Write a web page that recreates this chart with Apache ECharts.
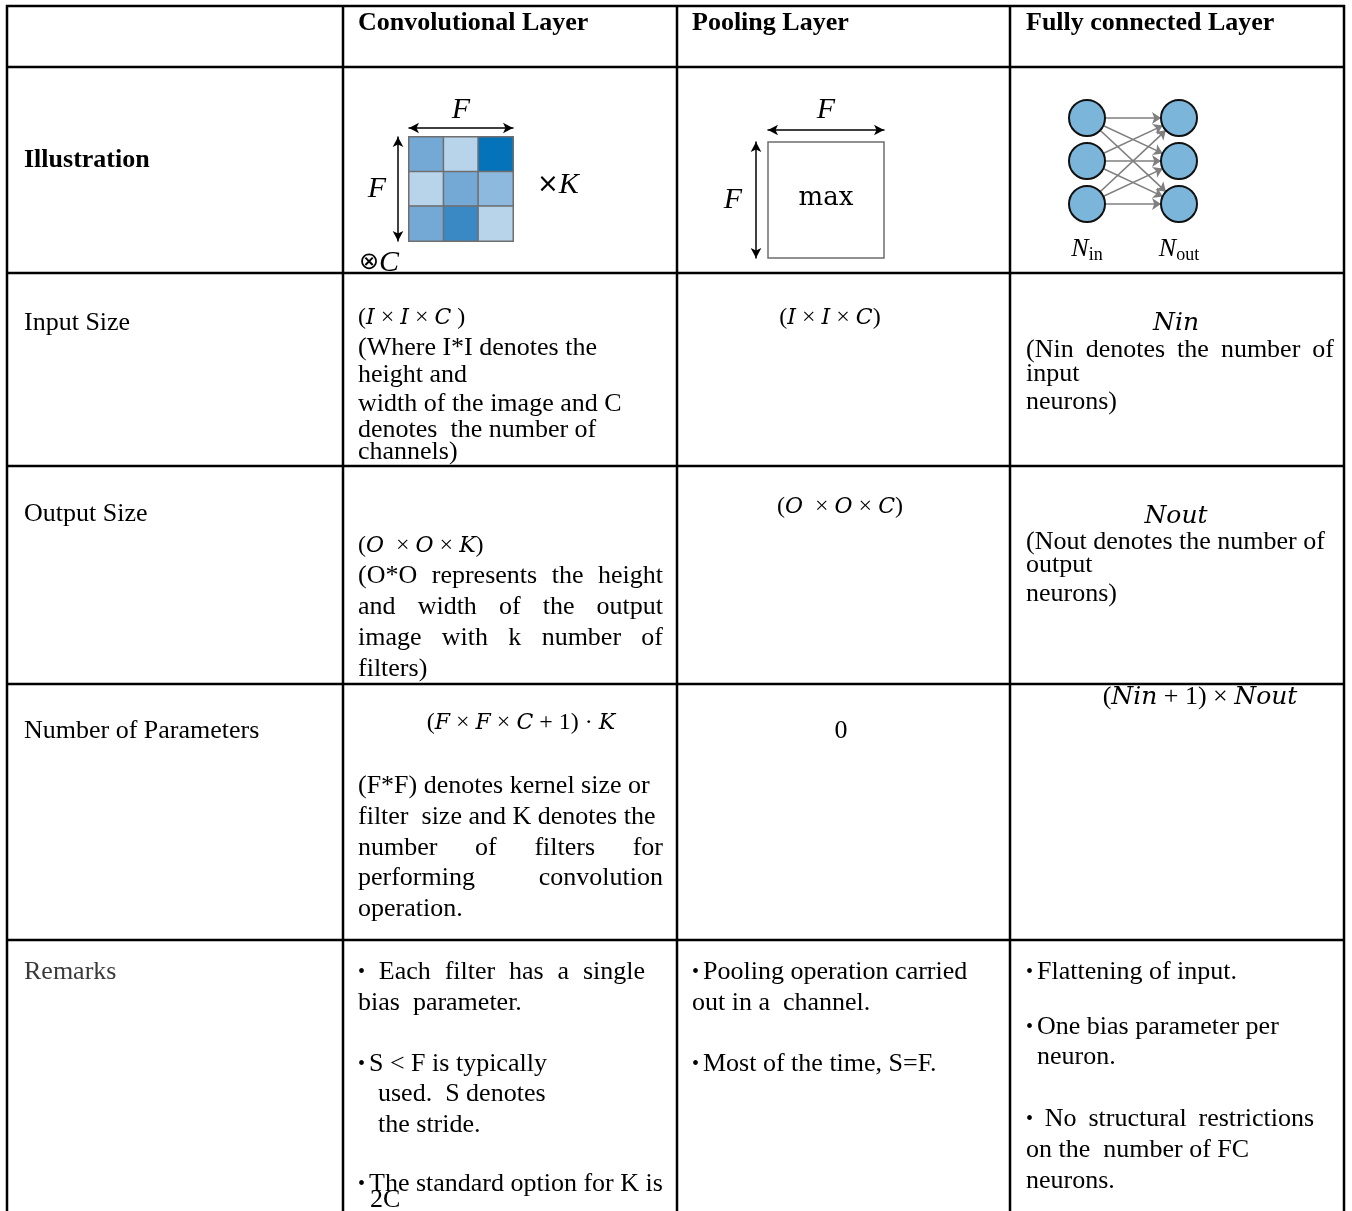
<!DOCTYPE html>
<html>
<head>
<meta charset="utf-8">
<script src="https://cdn.jsdelivr.net/npm/echarts@6/dist/echarts.min.js"></script>
<style>
  html, body { margin: 0; padding: 0; background: #fff; }
  #main { width: 1352px; height: 1211px; }
</style>
</head>
<body>
<div id="main"></div>
<script>
// ---- table content ----
const layerNames = ['Convolutional Layer', 'Pooling Layer', 'Fully connected Layer'];
const rowLabels = ['Illustration', 'Input Size', 'Output Size', 'Number of Parameters', 'Remarks'];

// kernel shades row by row (1 lightest .. 5 darkest)
const kernelShades = [
  [3, 1, 5],
  [1, 3, 2],
  [3, 4, 1]
];
const kernelColors = ['#b8d4ea', '#8cb9dd', '#74a9d6', '#3a88c4', '#0473b9'];
// neurons per layer of the fully connected sketch
const fcLayerSizes = [3, 3];
const fcLayerNames = ['in', 'out'];

const inputFormulas = ['({m|I} × {m|I} × {m|C} )', '({m|I} × {m|I} × {m|C})', '{m|Nin}'];
const outputFormulas = ['({m|O}  × {m|O} × {m|K})', '({m|O}  × {m|O} × {m|C})', '{m|Nout}'];
const paramFormulas = ['({m|F} × {m|F} × {m|C} + 1) · {m|K}', '0', '({m|Nin} + 1) × {m|Nout}'];

const inputSizeConv = ['(Where I*I denotes the', 'height and', 'width of the image and C', 'denotes  the number of', 'channels)'];
const inputSizeFc = ['(Nin denotes the number of', 'input', 'neurons)'];
const outputSizeConv = ['(O*O represents the height', 'and width of the output', 'image with k number of', 'filters)'];
const outputSizeFc = ['(Nout denotes the number of', 'output', 'neurons)'];
const paramsConv = ['(F*F) denotes kernel size or', 'filter  size and K denotes the', 'number of filters for', 'performing convolution', 'operation.'];
const remarksConv = ['• Each filter has a single', 'bias  parameter.', '• S < F is typically', 'used.  S denotes', 'the stride.', '• The standard option for K is', '2C'];
const remarksPool = ['• Pooling operation carried', 'out in a  channel.', '• Most of the time, S=F.'];
const remarksFc = ['• Flattening of input.', '• One bias parameter per', 'neuron.', '• No structural restrictions', 'on the  number of FC', 'neurons.'];

// ---- helpers ----
const SERIF = 'Liberation Serif';
const BODY = 26;
const BULLET = 20;
const ctx = document.createElement('canvas').getContext('2d');
function measure(str, size, family) {
  ctx.font = size + 'px ' + family;
  return ctx.measureText(str).width;
}

const mathRich = {
  m: { fontFamily: 'DejaVu Serif', fontStyle: 'italic', fontSize: 22, fill: '#000' }
};
const fcMathRich = {
  m: { fontFamily: 'DejaVu Serif', fontStyle: 'italic', fontSize: 25, fill: '#000' }
};

function text(x, y, str, opt) {
  opt = opt || {};
  return {
    type: 'text',
    x: x,
    y: y,
    silent: true,
    style: {
      text: str,
      fontFamily: opt.family || SERIF,
      fontSize: opt.size || BODY,
      fontWeight: opt.weight || 'normal',
      fontStyle: opt.style || 'normal',
      fill: opt.color || '#000',
      textAlign: opt.align || 'left',
      textVerticalAlign: 'middle',
      align: opt.align || 'left',
      verticalAlign: 'middle',
      rich: opt.rich
    }
  };
}

function bullet(x, y) {
  return text(x, y + 1, '•', { size: BULLET });
}

// paragraph: lines at given y's, optional justify {idx: rightEdge}, indent {idx: dx}
function para(x, ys, lines, opt) {
  opt = opt || {};
  const just = opt.justify || {};
  const indent = opt.indent || {};
  const out = [];
  lines.forEach(function (line, i) {
    const lx = x + (indent[i] || 0);
    const y = ys[i];
    if (just[i] != null) {
      const words = line.split(/\s+/);
      const widths = words.map(function (w) {
        return w === '•' ? measure(w, BULLET, SERIF) : measure(w, BODY, SERIF);
      });
      const total = widths.reduce(function (a, b) { return a + b; }, 0);
      const gap = (just[i] - lx - total) / (words.length - 1);
      let cx = lx;
      words.forEach(function (w, k) {
        out.push(w === '•' ? bullet(cx, y) : text(cx, y, w));
        cx += widths[k] + gap;
      });
    } else if (line.indexOf('• ') === 0) {
      out.push(bullet(lx, y));
      out.push(text(lx + 11, y, line.slice(2)));
    } else {
      out.push(text(lx, y, line));
    }
  });
  return out;
}

// ---- table frame ----
const colX = [7, 343, 677, 1010, 1344];
const rowY = [6, 67, 273, 466, 684, 940];
const frame = [];
colX.forEach(function (x) {
  frame.push({ type: 'line', silent: true, shape: { x1: x, y1: 5, x2: x, y2: 1215 }, style: { stroke: '#000', lineWidth: 2.5 } });
});
rowY.forEach(function (y) {
  frame.push({ type: 'line', silent: true, shape: { x1: 6, y1: y, x2: 1345, y2: y }, style: { stroke: '#000', lineWidth: 2.5 } });
});

// ---- cell texts ----
let cells = [];
cells.push(text(358, 23, layerNames[0], { weight: 'bold' }));
cells.push(text(692, 23, layerNames[1], { weight: 'bold' }));
cells.push(text(1026, 23, layerNames[2], { weight: 'bold' }));

const labelY = [160, 323, 514, 731, 972];
rowLabels.forEach(function (l, i) {
  cells.push(text(24, labelY[i], l, {
    weight: i === 0 ? 'bold' : 'normal',
    color: i === 4 ? '#3a3a3a' : '#000'
  }));
});

// input size
cells.push(text(358, 318, inputFormulas[0], { size: 24, rich: mathRich }));
cells = cells.concat(para(358, [348, 375, 404, 430, 452], inputSizeConv));
cells.push(text(830, 318, inputFormulas[1], { size: 24, rich: mathRich, align: 'center' }));
cells.push(text(1176, 323, inputFormulas[2], { size: 25, rich: fcMathRich, align: 'center' }));
cells = cells.concat(para(1026, [350, 374, 402], inputSizeFc, { justify: { 0: 1334 } }));

// output size
cells.push(text(358, 546, outputFormulas[0], { size: 24, rich: mathRich }));
cells = cells.concat(para(358, [576, 607, 638, 669], outputSizeConv, { justify: { 0: 663, 1: 663, 2: 663 } }));
cells.push(text(840, 507, outputFormulas[1], { size: 24, rich: mathRich, align: 'center' }));
cells.push(text(1176, 516, outputFormulas[2], { size: 25, rich: fcMathRich, align: 'center' }));
cells = cells.concat(para(1026, [542, 565, 594], outputSizeFc));

// number of parameters
cells.push(text(521, 723, paramFormulas[0], { size: 24, rich: mathRich, align: 'center' }));
cells = cells.concat(para(358, [786, 817, 848, 878, 909], paramsConv, { justify: { 2: 663, 3: 663 } }));
cells.push(text(841, 731, paramFormulas[1], { align: 'center' }));
cells.push(text(1200, 697, paramFormulas[2], { size: 26, rich: fcMathRich, align: 'center' }));

// remarks
cells = cells.concat(para(358, [972, 1003, 1064, 1094, 1125, 1184, 1200], remarksConv,
  { justify: { 0: 645 }, indent: { 3: 20, 4: 20, 6: 12 } }));
cells = cells.concat(para(692, [972, 1003, 1064], remarksPool));
cells = cells.concat(para(1026, [972, 1027, 1057, 1119, 1150, 1181], remarksFc,
  { justify: { 3: 1314 }, indent: { 2: 11 } }));

// illustration extras
cells.push(text(537, 185, '×{k|K}', {
  size: 26, family: 'DejaVu Sans',
  rich: { k: { fontFamily: SERIF, fontStyle: 'italic', fontSize: 30, fill: '#000' } }
}));
cells.push(text(359, 263, '{o|⊗}{c|C}', {
  size: 26,
  rich: {
    o: { fontFamily: 'DejaVu Sans', fontSize: 24, fill: '#000' },
    c: { fontFamily: SERIF, fontStyle: 'italic', fontSize: 30, fill: '#000' }
  }
}));
cells.push(text(826, 198, 'max', { family: 'DejaVu Serif', size: 26, align: 'center' }));

// ---- kernel heatmap data ----
const kernelData = [];
kernelShades.forEach(function (row, r) {
  row.forEach(function (v, c) { kernelData.push([c, r, v]); });
});

// ---- fully connected graph ----
const fcNodes = [];
fcLayerSizes.forEach(function (n, layer) {
  for (let k = 0; k < n; k++) fcNodes.push([layer, k]);
});
const fcLinks = [];
for (let a = 0; a < fcLayerSizes[0]; a++) {
  for (let b = 0; b < fcLayerSizes[1]; b++) {
    fcLinks.push({ source: a, target: fcLayerSizes[0] + b });
  }
}

const arrowLine = { onZero: false, symbol: ['arrow', 'arrow'], symbolSize: [8, 10], lineStyle: { color: '#000', width: 1.5 } };
const nameStyle = { fontFamily: SERIF, fontStyle: 'italic', fontSize: 30, color: '#000' };
const hidden = {
  axisTick: { show: false }, axisLabel: { show: false }, splitLine: { show: false }
};

const option = {
  animation: false,
  backgroundColor: '#fff',
  grid: [
    { left: 409, top: 137, width: 104, height: 104, show: false },
    { left: 768, top: 142, width: 116, height: 116, show: true, borderColor: '#6e6e6e', borderWidth: 1.5 },
    { left: 1087, top: 118, width: 92, height: 86, show: false }
  ],
  xAxis: [
    Object.assign({
      gridIndex: 0, type: 'category', data: ['0', '1', '2'], position: 'top', offset: 9,
      axisLine: arrowLine, name: 'F', nameLocation: 'middle', nameGap: 3, nameTextStyle: nameStyle
    }, hidden),
    Object.assign({
      gridIndex: 1, type: 'value', min: 0, max: 1, position: 'top', offset: 12,
      axisLine: arrowLine, name: 'F', nameLocation: 'middle', nameGap: 5, nameTextStyle: nameStyle
    }, hidden),
    {
      gridIndex: 2, type: 'value', min: 0, max: 1, interval: 1, position: 'bottom',
      axisLine: { show: false }, axisTick: { show: false }, splitLine: { show: false },
      axisLabel: {
        margin: 30, showMinLabel: true, showMaxLabel: true,
        formatter: function (v) { return '{n|N}{s|' + fcLayerNames[v] + '}'; },
        rich: {
          n: { fontFamily: SERIF, fontStyle: 'italic', fontSize: 26, color: '#000' },
          s: { fontFamily: SERIF, fontSize: 18, color: '#000', padding: [12, 0, 0, 0] }
        }
      }
    }
  ],
  yAxis: [
    Object.assign({
      gridIndex: 0, type: 'category', data: ['0', '1', '2'], inverse: true, position: 'left', offset: 11,
      axisLine: arrowLine, name: 'F', nameLocation: 'middle', nameGap: 12, nameRotate: 0, nameTextStyle: nameStyle
    }, hidden),
    Object.assign({
      gridIndex: 1, type: 'value', min: 0, max: 1, position: 'left', offset: 12,
      axisLine: arrowLine, name: 'F', nameLocation: 'middle', nameGap: 14, nameRotate: 0, nameTextStyle: nameStyle
    }, hidden),
    {
      gridIndex: 2, type: 'value', min: 0, max: 2, inverse: true, show: false
    }
  ],
  visualMap: {
    show: false,
    type: 'piecewise',
    seriesIndex: 0,
    dimension: 2,
    pieces: kernelColors.map(function (c, i) { return { value: i + 1, color: c }; })
  },
  series: [
    {
      type: 'heatmap',
      xAxisIndex: 0, yAxisIndex: 0,
      data: kernelData,
      silent: true,
      itemStyle: { borderColor: '#6f6f6f', borderWidth: 1.5 }
    },
    {
      type: 'graph',
      coordinateSystem: 'cartesian2d',
      xAxisIndex: 2, yAxisIndex: 2,
      silent: true,
      symbol: 'circle',
      symbolSize: 36,
      itemStyle: { color: '#7bb5d9', borderColor: '#111', borderWidth: 2, opacity: 1 },
      edgeSymbol: ['none', 'arrow'],
      edgeSymbolSize: 9,
      lineStyle: { color: '#7f7f7f', width: 1.6, opacity: 1 },
      label: { show: false },
      data: fcNodes,
      links: fcLinks
    }
  ],
  graphic: frame.concat(cells)
};

const chart = echarts.init(document.getElementById('main'), null, { renderer: 'canvas' });
chart.setOption(option);
</script>
</body>
</html>
